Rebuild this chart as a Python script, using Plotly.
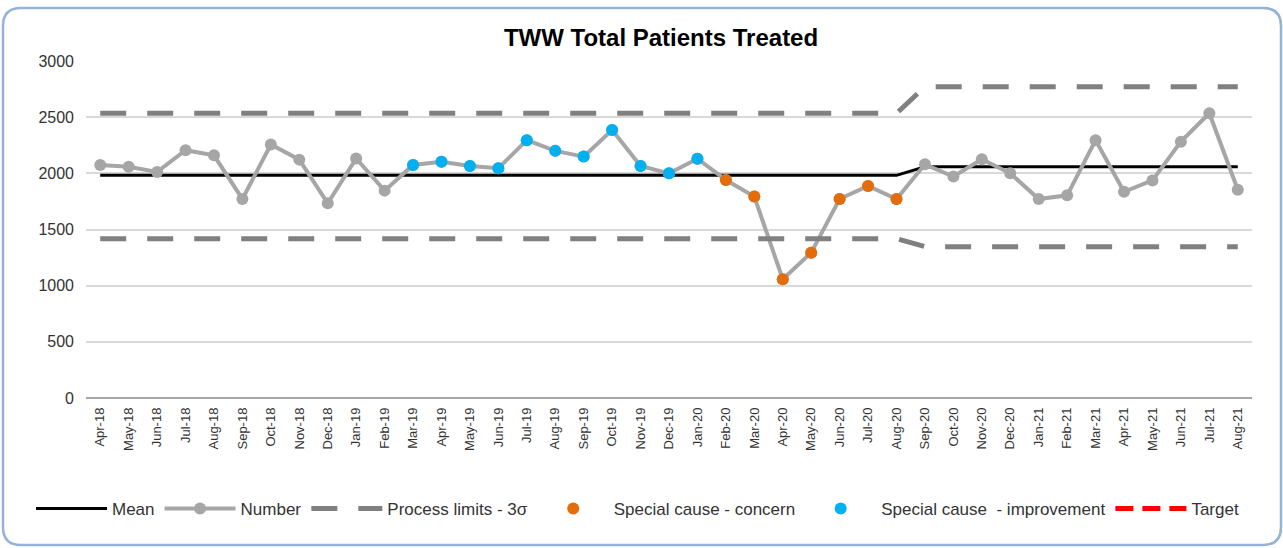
import plotly.graph_objects as go

months = ['Apr-18', 'May-18', 'Jun-18', 'Jul-18', 'Aug-18', 'Sep-18', 'Oct-18', 'Nov-18', 'Dec-18',
          'Jan-19', 'Feb-19', 'Mar-19', 'Apr-19', 'May-19', 'Jun-19', 'Jul-19', 'Aug-19', 'Sep-19',
          'Oct-19', 'Nov-19', 'Dec-19', 'Jan-20', 'Feb-20', 'Mar-20', 'Apr-20', 'May-20', 'Jun-20',
          'Jul-20', 'Aug-20', 'Sep-20', 'Oct-20', 'Nov-20', 'Dec-20', 'Jan-21', 'Feb-21', 'Mar-21',
          'Apr-21', 'May-21', 'Jun-21', 'Jul-21', 'Aug-21']

patients = [2074, 2059, 2012, 2206, 2160, 1772, 2256, 2122, 1733,
            2132, 1846, 2074, 2104, 2065, 2045, 2295, 2200, 2149,
            2386, 2065, 2000, 2130, 1941, 1793, 1057, 1294, 1772,
            1887, 1772, 2080, 1972, 2126, 2000, 1771, 1804, 2295,
            1836, 1937, 2282, 2535, 1854]

# control chart phases (recalculated from Sep-20)
phase_break = 'Sep-20'
mean_before, mean_after = 1982, 2059
upper_before, upper_after = 2534, 2771
lower_before, lower_after = 1418, 1347

concern_months = ['Feb-20', 'Mar-20', 'Apr-20', 'May-20', 'Jun-20', 'Jul-20', 'Aug-20']
improvement_months = ['Mar-19', 'Apr-19', 'May-19', 'Jun-19', 'Jul-19', 'Aug-19', 'Sep-19',
                      'Oct-19', 'Nov-19', 'Dec-19', 'Jan-20']

split = months.index(phase_break)
n = len(months)
mean = [mean_before] * split + [mean_after] * (n - split)
upper = [upper_before] * split + [upper_after] * (n - split)
lower = [lower_before] * split + [lower_after] * (n - split)
concern = [p if m in concern_months else None for m, p in zip(months, patients)]
improvement = [p if m in improvement_months else None for m, p in zip(months, patients)]

W, H = 1283, 548
L, R, T, B = 86, 1252, 61, 398

fig = go.Figure()
fig.add_trace(go.Scatter(x=months, y=mean, name='Mean', mode='lines',
                         line=dict(color='black', width=3)))
fig.add_trace(go.Scatter(x=months, y=patients, name='Number', mode='lines+markers',
                         line=dict(color='#a6a6a6', width=4),
                         marker=dict(color='#a6a6a6', size=12)))
fig.add_trace(go.Scatter(x=months, y=upper, name='Process limits - 3σ', mode='lines',
                         line=dict(color='#808080', width=5, dash='26px,21px')))
fig.add_trace(go.Scatter(x=months, y=lower, name='Process limits - 3σ', mode='lines',
                         showlegend=False,
                         line=dict(color='#808080', width=5, dash='26px,21px')))
fig.add_trace(go.Scatter(x=months, y=concern, name='Special cause - concern', mode='markers',
                         marker=dict(color='#e46c0a', size=12)))
fig.add_trace(go.Scatter(x=months, y=improvement, name='Special cause  - improvement',
                         mode='markers', marker=dict(color='#00b0f0', size=12)))
fig.add_trace(go.Scatter(x=[months[0]], y=[None], name='Target', mode='lines',
                         line=dict(color='red', width=5, dash='18px,9px')))


def px(x):
    return (x - L) / (R - L)


def py(y):
    return (B - y) / (B - T)


# rounded chart-area border like the Excel chart frame
x0, y0, x1, y1, r = 3, 8, 1281, 545, 18
path = (f'M {px(x0 + r)},{py(y0)} L {px(x1 - r)},{py(y0)} '
        f'Q {px(x1)},{py(y0)} {px(x1)},{py(y0 + r)} L {px(x1)},{py(y1 - r)} '
        f'Q {px(x1)},{py(y1)} {px(x1 - r)},{py(y1)} L {px(x0 + r)},{py(y1)} '
        f'Q {px(x0)},{py(y1)} {px(x0)},{py(y1 - r)} L {px(x0)},{py(y0 + r)} '
        f'Q {px(x0)},{py(y0)} {px(x0 + r)},{py(y0)} Z')

fig.update_layout(
    width=W, height=H,
    margin=dict(l=L, r=W - R, t=T, b=H - B),
    paper_bgcolor='white', plot_bgcolor='white',
    font=dict(family='Liberation Sans, Arial, sans-serif', color='#404040'),
    title=dict(text='<b>TWW Total Patients Treated</b>', x=661 / W, xref='container',
               xanchor='center', y=1 - 38 / H, yanchor='middle',
               font=dict(size=24, color='black')),
    xaxis=dict(type='category', range=[-0.5, n - 0.5], tickangle=-90,
               tickfont=dict(size=13, color='#333333'), showgrid=False,
               showline=False, ticks='', ticklabelstandoff=6),
    yaxis=dict(range=[0, 3000], dtick=500, gridcolor='#d9d9d9', gridwidth=1.5,
               zeroline=True, zerolinecolor='#a6a6a6', zerolinewidth=2,
               tickfont=dict(size=16, color='#333333'), ticks='',
               ticklabelstandoff=11),
    legend=dict(orientation='h', x=px(31), xref='paper', xanchor='left',
                y=py(509), yref='paper', yanchor='middle',
                itemwidth=71, font=dict(size=17, color='#333333'),
                traceorder='normal'),
    shapes=[dict(type='path', path=path, xref='paper', yref='paper',
                 line=dict(color='#95b3d7', width=2.5), layer='below')],
)

fig.write_html('out.html', config={'displayModeBar': False},
               post_script="document.body.style.margin='0';")
